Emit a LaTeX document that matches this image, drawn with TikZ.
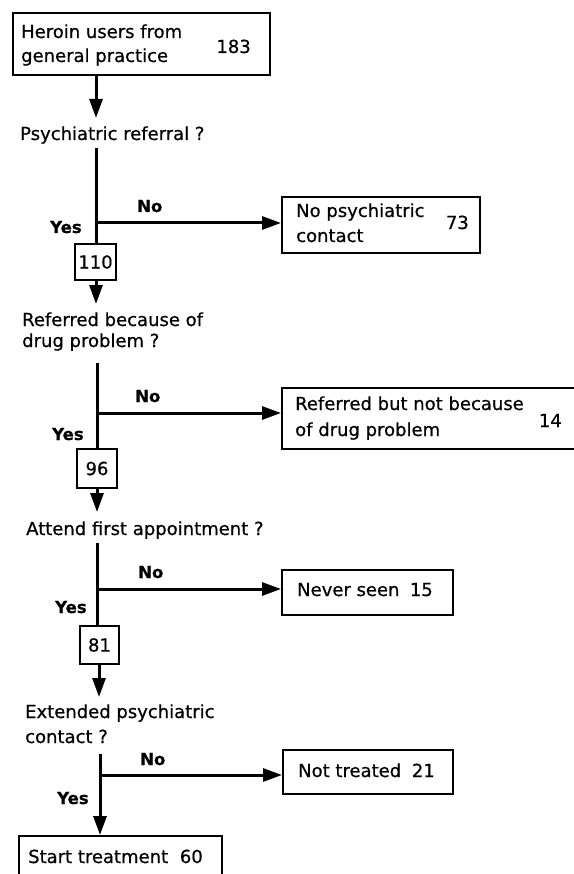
\documentclass[tikz,border=0pt]{standalone}
\usepackage{fontspec}
\setmainfont{DejaVu Sans}[FakeBold=0.6]
\usetikzlibrary{arrows.meta}
\begin{document}
\begin{tikzpicture}[x=1pt,y=-1pt,
  box/.style={draw, line width=2pt, inner sep=0pt, anchor=north west},
  txt/.style={inner sep=0pt, font=\fontsize{18}{24}\selectfont, align=left},
  lbl/.style={inner sep=0pt, font=\fontsize{16.5}{20}\selectfont\bfseries, anchor=base west},
  flow/.style={line width=3pt, -{Triangle[length=19pt,width=13pt]}},
  trunk/.style={line width=3pt}
]
\useasboundingbox (0,0) rectangle (573,874);

% ---------- boxes ----------
\node[box, minimum width=257pt, minimum height=62pt] (b1) at (12,12) {};
\node[txt, anchor=base west] (b1t) at (21,62) {Heroin users from\\general practice};
\node[txt, anchor=base east] (b1n) at (251,53) {183};

\node[box, minimum width=198pt, minimum height=56pt] (b2) at (281,196) {};
\node[txt, anchor=base west, font=\fontsize{18}{25}\selectfont] (b2t) at (296,242) {No psychiatric\\contact};
\node[txt, anchor=base east] (b2n) at (469,229) {73};

\node[box, minimum width=300pt, minimum height=61pt] (b3) at (281,387) {};
\node[txt, anchor=base west, font=\fontsize{18}{26}\selectfont] (b3t) at (295,436) {Referred but not because\\of drug problem};
\node[txt, anchor=base east] (b3n) at (562,427) {14};

\node[box, minimum width=171pt, minimum height=45pt] (b4) at (281,569) {};
\node[txt, anchor=base west] (b4t) at (297,596) {Never seen};
\node[txt, anchor=base east] (b4n) at (433,596) {15};

\node[box, minimum width=170pt, minimum height=44pt] (b5) at (282,749) {};
\node[txt, anchor=base west] (b5t) at (298,777) {Not treated};
\node[txt, anchor=base east] (b5n) at (435,777) {21};

\node[box, minimum width=203pt, minimum height=50pt] (b6) at (18,835) {};
\node[txt, anchor=base west] (b6t) at (28,863) {Start treatment};
\node[txt, anchor=base east] (b6n) at (203,863) {60};

% ---------- number boxes ----------
\node[box, minimum width=41pt, minimum height=36pt] (n110) at (74,243) {};
\node[txt] (n110t) at (n110.center) {110};
\node[box, minimum width=40pt, minimum height=39pt] (n96) at (76,448) {};
\node[txt] (n96t) at (n96.center) {96};
\node[box, minimum width=39pt, minimum height=38pt] (n81) at (79,625) {};
\node[txt] (n81t) at (n81.center) {81};

% ---------- questions ----------
\node[txt, anchor=base west] (q1) at (20,140) {Psychiatric referral ?};
\node[txt, anchor=base west, font=\fontsize{18}{21}\selectfont] (q2) at (22,347) {Referred because of\\drug problem ?};
\node[txt, anchor=base west] (q3) at (26,535) {Attend first appointment ?};
\node[txt, anchor=base west, font=\fontsize{18}{25}\selectfont] (q4) at (25,743) {Extended psychiatric\\contact ?};

% ---------- yes / no labels ----------
\node[lbl] (no1) at (137,212) {No};
\node[lbl] (yes1) at (50,233) {Yes};
\node[lbl] (no2) at (135,402) {No};
\node[lbl] (yes2) at (52,440) {Yes};
\node[lbl] (no3) at (138,578) {No};
\node[lbl] (yes3) at (55,613) {Yes};
\node[lbl] (no4) at (140,765) {No};
\node[lbl] (yes4) at (57,804) {Yes};

% ---------- connector points ----------
\coordinate (a1) at (96,118);
\coordinate (s1) at (96,148);
\coordinate (j1) at (96,223);
\coordinate (a2) at (96,304);
\coordinate (s2) at (97,363);
\coordinate (j2) at (97,413);
\coordinate (a3) at (97,512);
\coordinate (s3) at (97,543);
\coordinate (j3) at (97,589);
\coordinate (a4) at (99,697);
\coordinate (s4) at (100,754);
\coordinate (j4) at (100,775);

% ---------- connectors ----------
\draw[flow] (a1 |- b1.south) -- (a1);

\draw[trunk] (s1) -- (s1 |- n110.north);
\draw[flow] (j1) -- (j1 -| b2.west);
\draw[flow] (a2 |- n110.south) -- (a2);

\draw[trunk] (s2) -- (s2 |- n96.north);
\draw[flow] (j2) -- (j2 -| b3.west);
\draw[flow] (a3 |- n96.south) -- (a3);

\draw[trunk] (s3) -- (s3 |- n81.north);
\draw[flow] (j3) -- (j3 -| b4.west);
\draw[flow] (a4 |- n81.south) -- (a4);

\draw[flow] (s4) -- (s4 |- b6.north);
\draw[flow] (j4) -- (j4 -| b5.west);
\end{tikzpicture}
\end{document}
